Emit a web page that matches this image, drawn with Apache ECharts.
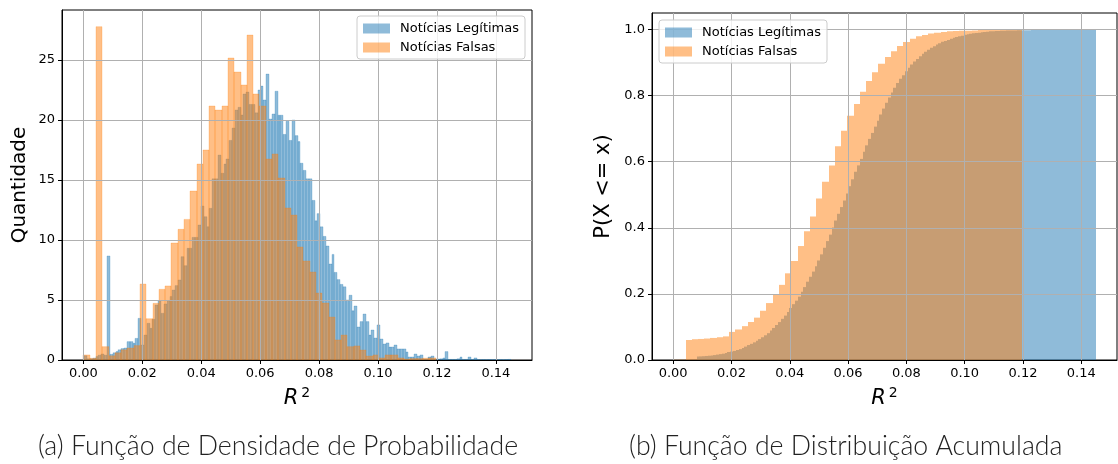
<!DOCTYPE html>
<html>
<head>
<meta charset="utf-8">
<script src="https://cdn.jsdelivr.net/npm/echarts@6/dist/echarts.min.js"></script>
<style>
html,body{margin:0;padding:0;background:#fff;}
#chart{width:1118px;height:464px;}
</style>
</head>
<body>
<div id="chart"></div>
<script>
// ---------- data ----------
const SERIES_NAMES = ['Notícias Legítimas', 'Notícias Falsas'];

// histogram bins (R^2 values)
const LEGIT_BIN_START = 0.0003;
const LEGIT_BIN_WIDTH = 0.000965;
const FAKE_BIN_START = 0.0;
const FAKE_BIN_WIDTH = 0.002134;

// probability density per bin, "Notícias Legítimas" (150 bins)
const LEGIT_DENSITY = [
  0.35, 0.1, 0.1, 0.15, 0.3, 0.4, 0.5, 0.4, 8.67, 0.47,
  0.6, 0.7, 0.85, 0.95, 1.0, 1.53, 1.53, 1.39, 1.8, 3.47,
  1.25, 2.08, 3.06, 2.64, 3.39, 4.58, 4.94, 3.89, 4.67, 4.94,
  5.3, 5.83, 6.2, 6.67, 8.61, 7.86, 9.31, 9.31, 10.22, 10.22,
  11.25, 12.83, 11.94, 11.11, 12.64, 15.1, 15.1, 17.08, 15.56, 16.33,
  16.75, 18.3, 19.33, 20.83, 21.06, 20.42, 22.17, 22.33, 21.3, 21.3,
  20.6, 22.5, 22.83, 21.67, 23.83, 20.08, 20.5, 22.4, 20.4, 20.4,
  18.8, 19.9, 18.3, 20.0, 18.7, 18.2, 16.4, 15.8, 15.1, 15.1,
  13.3, 11.6, 12.2, 11.1, 10.3, 9.5, 8.0, 8.8, 7.3, 6.7,
  6.3, 6.1, 5.0, 5.4, 4.1, 4.5, 2.75, 3.2, 3.83, 3.2,
  2.08, 2.5, 1.83, 2.92, 1.75, 1.33, 1.42, 1.08, 1.08, 1.25,
  0.92, 0.92, 0.92, 0.67, 0.25, 0.25, 0.5, 0.33, 0.42, 0.08,
  0.08, 0.25, 0.33, 0.08, 0.08, 0.1, 0.17, 0.7, 0.05, 0.05,
  0.05, 0.1, 0.25, 0.05, 0.05, 0.25, 0.05, 0.17, 0.04, 0.03,
  0.04, 0.03, 0.04, 0.03, 0.04, 0.03, 0.04, 0.03, 0.04, 0.05
];

// probability density per bin, "Notícias Falsas" (56 bins)
const FAKE_DENSITY = [
  0.42, 0.14, 27.78, 1.11, 0.35, 0.6, 0.85, 1.0, 1.2, 6.33,
  3.44, 4.72, 5.89, 6.17, 9.75, 10.89, 11.72, 14.08, 16.33, 17.5,
  21.17, 20.83, 21.17, 25.17, 24.0, 22.92, 27.08, 22.17, 21.17, 16.75,
  17.17, 15.17, 12.67, 12.08, 9.42, 8.25, 7.33, 5.58, 4.75, 3.58,
  1.67, 2.08, 1.11, 1.17, 0.83, 0.33, 0.42, 0.17, 0.42, 0.42,
  0.17, 0.08, 0.12, 0.12, 0.15, 0.17
];

const X_TICKS = [0, 0.02, 0.04, 0.06, 0.08, 0.10, 0.12, 0.14];
const PDF_Y_TICKS = [0, 5, 10, 15, 20, 25];
const CDF_Y_TICKS = [0, 0.2, 0.4, 0.6, 0.8, 1.0];

const CAPTION_A = '(a) Função de Densidade de Probabilidade';
const CAPTION_B = '(b) Função de Distribuição Acumulada';
const PDF_Y_NAME = 'Quantidade';
const CDF_Y_NAME = 'P(X <= x)';

// ---------- build histogram rows ----------
function pdfRows(start, width, dens) {
  return dens.map((h, i) => [start + i * width, start + (i + 1) * width, h]);
}
function cdfRows(start, width, dens) {
  const total = dens.reduce((s, h) => s + h * width, 0);
  let acc = 0;
  return dens.map((h, i) => {
    acc += h * width;
    return [start + i * width, start + (i + 1) * width, acc / total];
  });
}

const BLUE_FILL = 'rgba(31,119,180,0.5)';
const BLUE_EDGE = 'rgba(31,119,180,0.4)';
const ORANGE_FILL = 'rgba(255,127,14,0.5)';
const ORANGE_EDGE = 'rgba(255,127,14,0.4)';

function render(fill, edge, lw) {
  return function (params, api) {
    const tl = api.coord([api.value(0), api.value(2)]);
    const br = api.coord([api.value(1), 0]);
    const x0 = Math.round(tl[0]), x1 = Math.round(br[0]);
    return {
      type: 'rect',
      shape: { x: x0, y: tl[1], width: x1 - x0, height: br[1] - tl[1] },
      style: edge ? { fill: fill, stroke: edge, lineWidth: lw } : { fill: fill }
    };
  };
}

const FONT = 'DejaVu Sans';
const XMIN = -0.00725, XMAX = 0.15225;

function xAxisCfg(gridIndex) {
  return {
    type: 'value', gridIndex: gridIndex, min: XMIN, max: XMAX, z: 3,
    name: '{r|R}{s|2}', nameLocation: 'middle', nameGap: 26,
    nameTextStyle: {
      rich: {
        r: { fontFamily: FONT, fontStyle: 'italic', fontSize: 21, color: '#000' },
        s: { fontFamily: FONT, fontSize: 14, color: '#000', verticalAlign: 'top', padding: [0, 0, 12, 3] }
      }
    },
    axisLine: { show: true, onZero: false, lineStyle: { color: '#000', width: 1 } },
    axisTick: { show: true, inside: false, length: 4, customValues: X_TICKS, lineStyle: { color: '#000' } },
    axisLabel: { customValues: X_TICKS, formatter: v => v.toFixed(2), fontFamily: FONT, fontSize: 13, color: '#000', margin: 7 },
    splitLine: { show: true, lineStyle: { color: '#b0b0b0', width: 1 } }
  };
}

function yAxisCfg(gridIndex, max, ticks, digits, name, gap, nameSize) {
  return {
    type: 'value', gridIndex: gridIndex, min: 0, max: max, z: 3,
    name: name, nameLocation: 'middle', nameGap: gap, nameRotate: 90,
    nameTextStyle: { fontFamily: FONT, fontSize: nameSize, color: '#000' },
    axisLine: { show: true, onZero: false, lineStyle: { color: '#000', width: 1 } },
    axisTick: { show: true, inside: false, length: 4, customValues: ticks, lineStyle: { color: '#000' } },
    axisLabel: { customValues: ticks, formatter: v => v.toFixed(digits), fontFamily: FONT, fontSize: 13, color: '#000', margin: 7 },
    splitLine: { show: true, lineStyle: { color: '#b0b0b0', width: 1 } }
  };
}

function legendCfg(left, top) {
  return {
    left: left, top: top, orient: 'vertical', icon: 'rect',
    itemWidth: 27, itemHeight: 10, itemGap: 6,
    padding: [6, 6, 5, 6],
    backgroundColor: 'rgba(255,255,255,0.8)', borderColor: '#cccccc', borderWidth: 1, borderRadius: 3,
    textStyle: { fontFamily: FONT, fontSize: 13, color: '#000', padding: [0, 0, 0, 5] },
    selectedMode: false,
    data: SERIES_NAMES
  };
}

const chart = echarts.init(document.getElementById('chart'), null, { renderer: 'canvas' });
chart.setOption({
  animation: false,
  backgroundColor: '#fff',
  grid: [
    { left: 62, top: 10, width: 470, height: 350, show: true, borderColor: '#000', borderWidth: 1, backgroundColor: 'transparent' },
    { left: 652, top: 13, width: 465, height: 347, show: true, borderColor: '#000', borderWidth: 1, backgroundColor: 'transparent' }
  ],
  xAxis: [xAxisCfg(0), xAxisCfg(1)],
  yAxis: [
    yAxisCfg(0, 29.17, PDF_Y_TICKS, 0, PDF_Y_NAME, 32, 20),
    yAxisCfg(1, 1.05, CDF_Y_TICKS, 1, CDF_Y_NAME, 38, 21)
  ],
  legend: [legendCfg(357, 16), legendCfg(659, 20)],
  series: [
    { name: SERIES_NAMES[0], type: 'custom', xAxisIndex: 0, yAxisIndex: 0, z: 1, itemStyle: { color: BLUE_FILL },
      renderItem: render(BLUE_FILL, BLUE_EDGE, 0.6), data: pdfRows(LEGIT_BIN_START, LEGIT_BIN_WIDTH, LEGIT_DENSITY) },
    { name: SERIES_NAMES[1], type: 'custom', xAxisIndex: 0, yAxisIndex: 0, z: 1, itemStyle: { color: ORANGE_FILL },
      renderItem: render(ORANGE_FILL, ORANGE_EDGE, 0.6), data: pdfRows(FAKE_BIN_START, FAKE_BIN_WIDTH, FAKE_DENSITY) },
    { name: SERIES_NAMES[0], type: 'custom', xAxisIndex: 1, yAxisIndex: 1, z: 1, itemStyle: { color: BLUE_FILL },
      renderItem: render(BLUE_FILL, null, 0), data: cdfRows(LEGIT_BIN_START, LEGIT_BIN_WIDTH, LEGIT_DENSITY) },
    { name: SERIES_NAMES[1], type: 'custom', xAxisIndex: 1, yAxisIndex: 1, z: 1, itemStyle: { color: ORANGE_FILL },
      renderItem: render(ORANGE_FILL, null, 0), data: cdfRows(FAKE_BIN_START, FAKE_BIN_WIDTH, FAKE_DENSITY) }
  ],
  graphic: [
    { type: 'text', left: 38, top: 433, style: { text: CAPTION_A, font: '300 26.7px Lato', fill: '#222' } },
    { type: 'text', left: 629, top: 433, style: { text: CAPTION_B, font: '300 26.7px Lato', fill: '#222' } }
  ]
});
</script>
</body>
</html>
